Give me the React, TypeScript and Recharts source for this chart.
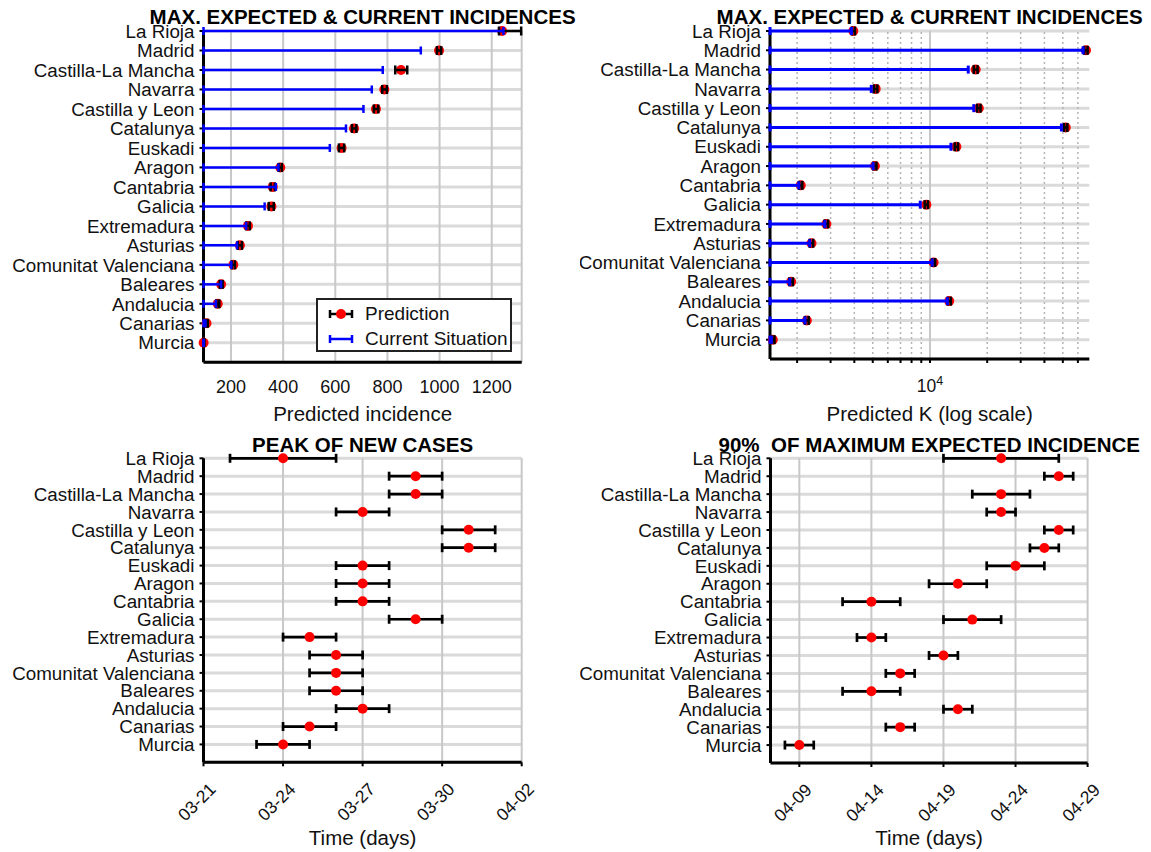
import React from 'react';
import {
  CartesianGrid,
  ErrorBar,
  Label,
  ReferenceLine,
  Scatter,
  ScatterChart,
  XAxis,
  YAxis,
} from 'recharts';

const REGIONS = [
  'La Rioja',
  'Madrid',
  'Castilla-La Mancha',
  'Navarra',
  'Castilla y Leon',
  'Catalunya',
  'Euskadi',
  'Aragon',
  'Cantabria',
  'Galicia',
  'Extremadura',
  'Asturias',
  'Comunitat Valenciana',
  'Baleares',
  'Andalucia',
  'Canarias',
  'Murcia',
];

// max expected incidence (prediction with interval) and current incidence
const INC_PRED = [1240, 998, 852, 788, 756, 672, 624, 389, 360, 355, 265, 234, 209, 162, 149, 106, 95];
const INC_LOW = [1228, 990, 830, 780, 748, 664, 614, 383, 352, 345, 258, 226, 203, 157, 144, 101, 94.5];
const INC_HIGH = [1313, 1006, 876, 798, 765, 681, 634, 395, 368, 364, 272, 242, 215, 168, 155, 111, 98];
const INC_CURRENT = [1245, 928, 782, 740, 708, 641, 579, 382, 372, 329, 258, 223, 201, 162, 142, 102, 95];
const INC_TICKS = [200, 400, 600, 800, 1000, 1200];
const INC_MIN = 94.5;
const INC_MAX = 1315;

// predicted K (log scale)
const K_PRED = [3950, 66200, 17400, 5180, 18070, 51800, 13770, 5130, 2090, 9570, 2850, 2380, 10450, 1860, 12620, 2250, 1490];
const K_LOW = [3880, 64800, 17000, 5080, 17700, 50800, 13500, 5030, 2050, 9380, 2790, 2330, 10250, 1820, 12380, 2200, 1465];
const K_HIGH = [4030, 67500, 17800, 5290, 18450, 52800, 14050, 5230, 2130, 9760, 2910, 2430, 10650, 1900, 12870, 2300, 1520];
const K_CURRENT = [3860, 63900, 15900, 4910, 17000, 49150, 12890, 5020, 2040, 8890, 2800, 2330, 10270, 1830, 12340, 2200, 1465];
const K_MINOR = [2000, 3000, 4000, 5000, 6000, 7000, 8000, 9000, 20000, 30000, 40000, 50000, 60000];
const K_MAJOR = [10000];
const K_MIN = 1440;
const K_MAX = 68900;

// peak of new cases (dates MM-DD, 2020)
const PEAK = ['03-24', '03-29', '03-29', '03-27', '03-31', '03-31', '03-27', '03-27', '03-27', '03-29', '03-25', '03-26', '03-26', '03-26', '03-27', '03-25', '03-24'];
const PEAK_LOW = ['03-22', '03-28', '03-28', '03-26', '03-30', '03-30', '03-26', '03-26', '03-26', '03-28', '03-24', '03-25', '03-25', '03-25', '03-26', '03-24', '03-23'];
const PEAK_HIGH = ['03-26', '03-30', '03-30', '03-28', '04-01', '04-01', '03-28', '03-28', '03-28', '03-30', '03-26', '03-27', '03-27', '03-27', '03-28', '03-26', '03-25'];
const PEAK_TICKS = ['03-21', '03-24', '03-27', '03-30', '04-02'];

// 90% of maximum expected incidence
const P90 = ['04-23', '04-27', '04-23', '04-23', '04-27', '04-26', '04-24', '04-20', '04-14', '04-21', '04-14', '04-19', '04-16', '04-14', '04-20', '04-16', '04-09'];
const P90_LOW = ['04-19', '04-26', '04-21', '04-22', '04-26', '04-25', '04-22', '04-18', '04-12', '04-19', '04-13', '04-18', '04-15', '04-12', '04-19', '04-15', '04-08'];
const P90_HIGH = ['04-27', '04-28', '04-25', '04-24', '04-28', '04-27', '04-26', '04-22', '04-16', '04-23', '04-15', '04-20', '04-17', '04-16', '04-21', '04-17', '04-10'];
const P90_TICKS = ['04-09', '04-14', '04-19', '04-24', '04-29'];
const P90_START = '04-07';

const FONT = '"Liberation Sans", Arial, Helvetica, sans-serif';
const Y_TICKS = REGIONS.map((_, i) => i);

const dayNum = (md: string) => {
  const [m, d] = md.split('-').map(Number);
  return Date.UTC(2020, m - 1, d) / 86400000;
};
const fmtDay = (v: number) => {
  const dt = new Date(v * 86400000);
  const mm = String(dt.getUTCMonth() + 1).padStart(2, '0');
  const dd = String(dt.getUTCDate()).padStart(2, '0');
  return `${mm}-${dd}`;
};

const rows = (pred: number[], low: number[], high: number[]) =>
  pred.map((v, i) => ({ y: i, x: v, err: [v - low[i], high[i] - v] }));
const currentRows = (cur: number[], min: number) =>
  cur.map((v, i) => ({ y: i, x: v, err: [v - min, 0] }));
const dateRows = (pred: string[], low: string[], high: string[]) =>
  rows(pred.map(dayNum), low.map(dayNum), high.map(dayNum));

const incPred = rows(INC_PRED, INC_LOW, INC_HIGH);
const incCur = currentRows(INC_CURRENT, INC_MIN);
const kPred = rows(K_PRED, K_LOW, K_HIGH);
const kCur = currentRows(K_CURRENT, K_MIN);
const peakRows = dateRows(PEAK, PEAK_LOW, PEAK_HIGH);
const p90Rows = dateRows(P90, P90_LOW, P90_HIGH);

const errKey = (p: any) => (p.err ?? p.payload?.err);

const RedDot = (p: any) => <circle cx={p.cx} cy={p.cy} r={5} fill="#ff0000" />;
const NoDot = () => <g />;

const axisLine = { stroke: '#000', strokeWidth: 3 };
const tickFont = { fill: '#111', fontSize: 18, fontFamily: FONT };

const yAxis = (width: number) => (
  <YAxis
    type="number"
    dataKey="y"
    domain={[0, 17]}
    reversed
    ticks={Y_TICKS}
    interval={0}
    tickFormatter={(v: number) => REGIONS[v]}
    width={width}
    tickSize={4}
    tickMargin={5}
    axisLine={axisLine}
    tickLine={{ stroke: '#000', strokeWidth: 2 }}
    tick={{ fill: '#111', fontSize: 18.8, fontFamily: FONT }}
  />
);

const hGrid = <CartesianGrid vertical={false} stroke="#dadada" strokeWidth={3} />;
const vGrid = <CartesianGrid horizontal={false} stroke="#c8c8c8" strokeWidth={2} />;

const PowerTick = (props: any) => {
  const { x, y, payload } = props;
  if (payload.value !== 10000) return <g />;
  return (
    <text x={x} y={y} dy="0.71em" textAnchor="middle" fill="#111" fontSize={17.5} fontFamily={FONT}>
      10
      <tspan dy={-7} fontSize={12.5}>
        {Math.round(Math.log10(payload.value))}
      </tspan>
    </text>
  );
};

const DateTick = (props: any) => {
  const { x, y, payload } = props;
  const ax = x + 13.5;
  const ay = y + 24;
  return (
    <text
      x={ax}
      y={ay}
      transform={`rotate(-45, ${ax}, ${ay})`}
      textAnchor="end"
      fill="#111"
      fontSize={17.5}
      fontFamily={FONT}
    >
      {fmtDay(payload.value)}
    </text>
  );
};

const axisTitle = { fill: '#111', fontSize: 20.5, fontFamily: FONT };

function Title({ cx, cy, text }: { cx: number; cy: number; text: string }) {
  return (
    <div
      style={{
        position: 'absolute',
        left: cx - 300,
        top: cy - 12,
        width: 600,
        height: 24,
        lineHeight: '24px',
        textAlign: 'center',
        fontFamily: FONT,
        fontWeight: 'bold',
        fontSize: 20.5,
        color: '#000',
        whiteSpace: 'pre',
        pointerEvents: 'none',
      }}
    >
      {text}
    </div>
  );
}

function LegendBox() {
  return (
    <div
      style={{
        position: 'absolute',
        left: 316,
        top: 298,
        width: 196,
        height: 54,
        border: '2px solid #222',
        boxSizing: 'border-box',
        background: '#fff',
        fontFamily: FONT,
        fontSize: 19,
        color: '#111',
      }}
    >
      <svg width={40} height={50} style={{ position: 'absolute', left: 0, top: 0 }}>
        <line x1={12} y1={14} x2={34} y2={14} stroke="#000" strokeWidth={2.5} />
        <line x1={12} y1={10} x2={12} y2={18} stroke="#000" strokeWidth={2.5} />
        <line x1={34} y1={10} x2={34} y2={18} stroke="#000" strokeWidth={2.5} />
        <circle cx={23} cy={14} r={5} fill="#ff0000" />
        <line x1={12} y1={39} x2={34} y2={39} stroke="#0000ff" strokeWidth={2.5} />
        <line x1={12} y1={35} x2={12} y2={43} stroke="#0000ff" strokeWidth={2.5} />
        <line x1={34} y1={35} x2={34} y2={43} stroke="#0000ff" strokeWidth={2.5} />
      </svg>
      <span style={{ position: 'absolute', left: 47, top: 14 - 11, lineHeight: '22px' }}>Prediction</span>
      <span style={{ position: 'absolute', left: 47, top: 39 - 11, lineHeight: '22px' }}>Current Situation</span>
    </div>
  );
}

export default function App() {
  return (
    <div
      style={{
        position: 'absolute',
        left: 0,
        top: 0,
        width: 1151,
        height: 852,
        background: '#fff',
        overflow: 'hidden',
      }}
    >
      {/* top left: incidence */}
      <div style={{ position: 'absolute', left: 0, top: 0 }}>
        <ScatterChart width={580} height={430} margin={{ top: 31, right: 58.3, bottom: 5.7, left: 0 }}>
          {hGrid}
          {vGrid}
          <XAxis
            type="number"
            dataKey="x"
            domain={[INC_MIN, INC_MAX]}
            ticks={INC_TICKS}
            tickLine={false}
            tickSize={5}
            tickMargin={12.7}
            axisLine={axisLine}
            tick={tickFont}
            height={62}
          >
            <Label value="Predicted incidence" position="insideBottom" offset={3.6} {...axisTitle} />
          </XAxis>
          {yAxis(203.5)}
          <Scatter data={incPred} shape={RedDot} isAnimationActive={false} zIndex={600} />
          <Scatter data={incPred} shape={NoDot} isAnimationActive={false} zIndex={610}>
            <ErrorBar dataKey={errKey} direction="x" width={4.5} stroke="#000" strokeWidth={2.5} isAnimationActive={false} zIndex={650} />
          </Scatter>
          <Scatter data={incCur} shape={NoDot} isAnimationActive={false} zIndex={620}>
            <ErrorBar dataKey={errKey} direction="x" width={4} stroke="#0000ff" strokeWidth={2.5} isAnimationActive={false} zIndex={660} />
          </Scatter>
        </ScatterChart>
      </div>

      {/* top right: K, log scale */}
      <div style={{ position: 'absolute', left: 580, top: 0 }}>
        <ScatterChart width={571} height={430} margin={{ top: 31, right: 61.7, bottom: 6, left: 0 }}>
          {hGrid}
          {K_MINOR.map((v) => (
            <ReferenceLine key={v} x={v} stroke="#b4b4b4" strokeWidth={1.5} strokeDasharray="2 3" />
          ))}
          {K_MAJOR.map((v) => (
            <ReferenceLine key={v} x={v} stroke="#c8c8c8" strokeWidth={2} />
          ))}
          <XAxis
            type="number"
            dataKey="x"
            scale="log"
            domain={[K_MIN, K_MAX]}
            ticks={[...K_MINOR.slice(0, 8), ...K_MAJOR, ...K_MINOR.slice(8)]}
            interval={0}
            tickSize={4}
            tickMargin={17}
            tickLine={{ stroke: '#000', strokeWidth: 2 }}
            axisLine={axisLine}
            tick={PowerTick}
            height={65}
          >
            <Label value="Predicted K (log scale)" position="insideBottom" offset={3.3} {...axisTitle} />
          </XAxis>
          {yAxis(190)}
          <Scatter data={kPred} shape={RedDot} isAnimationActive={false} zIndex={600} />
          <Scatter data={kPred} shape={NoDot} isAnimationActive={false} zIndex={610}>
            <ErrorBar dataKey={errKey} direction="x" width={4.5} stroke="#000" strokeWidth={2.5} isAnimationActive={false} zIndex={650} />
          </Scatter>
          <Scatter data={kCur} shape={NoDot} isAnimationActive={false} zIndex={620}>
            <ErrorBar dataKey={errKey} direction="x" width={4} stroke="#0000ff" strokeWidth={3} isAnimationActive={false} zIndex={660} />
          </Scatter>
        </ScatterChart>
      </div>

      {/* bottom left: peak of new cases */}
      <div style={{ position: 'absolute', left: 0, top: 430 }}>
        <ScatterChart width={580} height={422} margin={{ top: 28.3, right: 58.3, bottom: 4.7, left: 0 }}>
          {hGrid}
          {vGrid}
          <XAxis
            type="number"
            dataKey="x"
            domain={[dayNum(PEAK_TICKS[0]), dayNum(PEAK_TICKS[PEAK_TICKS.length - 1])]}
            ticks={PEAK_TICKS.map(dayNum)}
            interval={0}
            tickSize={4}
            tickMargin={0}
            tickLine={{ stroke: '#000', strokeWidth: 2 }}
            axisLine={axisLine}
            tick={DateTick}
            height={85}
          >
            <Label value="Time (days)" position="insideBottom" offset={2.6} {...axisTitle} />
          </XAxis>
          {yAxis(203.5)}
          <Scatter data={peakRows} shape={NoDot} isAnimationActive={false}>
            <ErrorBar dataKey={errKey} direction="x" width={4.5} stroke="#000" strokeWidth={2.7} isAnimationActive={false} />
          </Scatter>
          <Scatter data={peakRows} shape={RedDot} isAnimationActive={false} />
        </ScatterChart>
      </div>

      {/* bottom right: 90% of maximum expected incidence */}
      <div style={{ position: 'absolute', left: 580, top: 430 }}>
        <ScatterChart width={571} height={422} margin={{ top: 28.3, right: 63.4, bottom: 4, left: 0 }}>
          {hGrid}
          {vGrid}
          <XAxis
            type="number"
            dataKey="x"
            domain={[dayNum(P90_START), dayNum(P90_TICKS[P90_TICKS.length - 1])]}
            ticks={P90_TICKS.map(dayNum)}
            interval={0}
            tickSize={4}
            tickMargin={0}
            tickLine={{ stroke: '#000', strokeWidth: 2 }}
            axisLine={axisLine}
            tick={DateTick}
            height={85}
          >
            <Label value="Time (days)" position="insideBottom" offset={3.3} {...axisTitle} />
          </XAxis>
          {yAxis(190.5)}
          <Scatter data={p90Rows} shape={NoDot} isAnimationActive={false}>
            <ErrorBar dataKey={errKey} direction="x" width={4.5} stroke="#000" strokeWidth={2.7} isAnimationActive={false} />
          </Scatter>
          <Scatter data={p90Rows} shape={RedDot} isAnimationActive={false} />
        </ScatterChart>
      </div>

      <LegendBox />
      <Title cx={362.6} cy={17} text="MAX. EXPECTED & CURRENT INCIDENCES" />
      <Title cx={929.6} cy={17} text="MAX. EXPECTED & CURRENT INCIDENCES" />
      <Title cx={362.6} cy={445} text="PEAK OF NEW CASES" />
      <Title cx={929.3} cy={445} text="90%  OF MAXIMUM EXPECTED INCIDENCE" />
    </div>
  );
}
